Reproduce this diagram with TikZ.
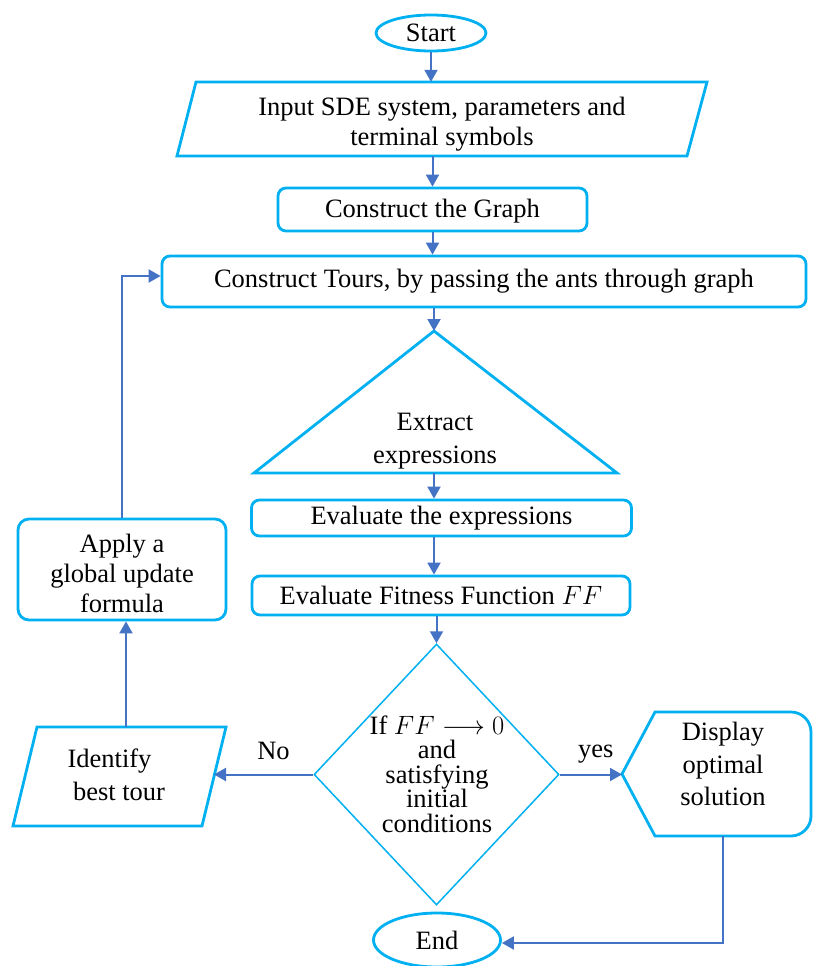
\RequirePackage{fix-cm}
\documentclass[tikz,border=0pt]{standalone}
\usepackage{fontspec}
\setmainfont{Liberation Serif}
\usetikzlibrary{shapes.geometric,arrows.meta}
\definecolor{boxc}{HTML}{00B0F0}
\definecolor{arrc}{HTML}{4472C4}
\begin{document}
\begin{tikzpicture}[x=1pt,y=-1pt,
  txt/.style={font=\fontsize{26.5}{30}\selectfont, align=center, inner sep=0pt},
  rbox/.style={txt, draw=boxc, line width=2.8pt, rounded corners=8pt},
  term/.style={txt, ellipse, draw=boxc, line width=2.8pt},
  outl/.style={draw=boxc, line width=2.8pt, line join=miter},
  arr/.style={draw=arrc, line width=2pt, -{Triangle[width=13pt,length=12pt]}},
  wire/.style={draw=arrc, line width=2pt}]
\useasboundingbox (0,0) rectangle (812,966);

% Start
\node[term, minimum width=110pt, minimum height=36pt] (start) at (431,33) {Start};

% Input parallelogram
\node[txt, minimum width=490pt, minimum height=74pt] (inp) at (442,119) {};
\draw[outl] (196,82) -- (707,82) -- (687,156) -- (177,156) -- cycle;
\node[txt] (inptext) at (442,124) {Input SDE system, parameters and\\terminal symbols};

% Graph and Tours
\node[rbox, minimum width=309pt, minimum height=43pt] (graph) at (432.5,209.5) {};
\node[txt] (graphtext) at (432.5,211.5) {Construct the Graph};
\node[rbox, minimum width=644pt, minimum height=51pt] (tours) at (484,281.5) {Construct Tours, by passing the ants through graph};

% Triangle
\coordinate (triT) at (434,331);
\coordinate (triB) at (434,473);
\draw[outl] (triT) -- (617,473) -- (254,473) -- cycle;
\node[txt, font=\fontsize{26.5}{33}\selectfont] (tri) at (435,441) {Extract\\expressions};

% Evaluate boxes
\node[rbox, minimum width=380pt, minimum height=36pt] (eval) at (441.5,518) {Evaluate the expressions};
\node[rbox, minimum width=378pt, minimum height=39pt] (fit) at (441,595.5) {Evaluate Fitness Function $FF$};

% Decision
\node[diamond, draw=boxc, line width=1.5pt, minimum width=245pt, minimum height=261pt, inner sep=0pt] (dec) at (436.5,774.5) {};
\node[txt, font=\fontsize{26.5}{24.5}\selectfont] (dectext) at (437,774) {If $FF\longrightarrow 0$\\and\\satisfying\\initial\\conditions};

% Identify best tour parallelogram
\coordinate (idT) at (126,727);
\coordinate (idR) at (214,775);
\draw[outl] (37,727) -- (226,727) -- (202,826) -- (13,826) -- cycle;
\node[txt, font=\fontsize{26.5}{33}\selectfont] (ident) at (119,775) {Identify\hspace*{19pt}\\best tour};

% Apply box
\node[rbox, rounded corners=11pt, minimum width=208pt, minimum height=101pt] (apply) at (122,569.5) {};
\node[txt] (applytext) at (122,573.5) {Apply a\\global update\\formula};

% Display shape
\coordinate (dispL) at (622,774);
\coordinate (dispB) at (723,836);
\draw[outl] (dispL) -- (655,712) -- (791,712) .. controls (802,712) and (811,721) .. (811,732) -- (811,816) .. controls (811,827) and (802,836) .. (791,836) -- (655,836) -- cycle;
\node[txt, font=\fontsize{26.5}{32.5}\selectfont] (disp) at (723,764) {Display\\optimal\\solution};

% End
\node[term, minimum width=127pt, minimum height=54pt] (end) at (437,940) {End};

% connector end points
\coordinate (toursIn) at ([yshift=5.5pt]tours.west);
\coordinate (endIn) at ([yshift=-3pt]end.east);

% Connectors
\draw[arr] (start.south) -- (start.south |- inp.north);
\draw[arr] (graph.north |- inp.south) -- (graph.north);
\draw[arr] (graph.south) -- (graph.south |- tours.north);
\draw[arr] (triT |- tours.south) -- (triT);
\draw[arr] (triB) -- (triB |- eval.north);
\draw[arr] (triB |- eval.south) -- (triB |- fit.north);
\draw[arr] (dec.north |- fit.south) -- (dec.north);
\draw[arr] (dec.west) -- (dec.west -| idR) node[pos=0.4, above=14pt, txt] (no) {No};
\draw[arr] (dec.east) -- (dec.east -| dispL) node[pos=0.58, above=10pt, txt] (yes) {yes};
\draw[arr] (idT) -- (idT |- apply.south);
\draw[arr] (apply.north) -- (apply.north |- toursIn) -- (toursIn);
\draw[arr] (dispB) -- (dispB |- endIn) -- (endIn);
\end{tikzpicture}
\end{document}
